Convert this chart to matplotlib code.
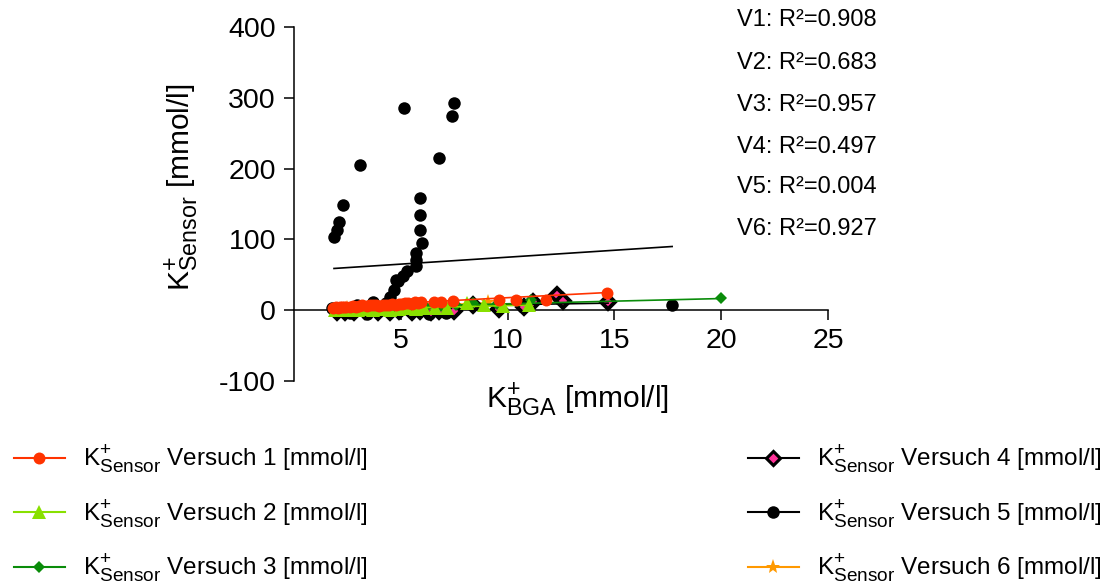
import numpy as np
import matplotlib
import matplotlib.pyplot as plt
import matplotlib._mathtext as mathtext_internals
from matplotlib.lines import Line2D

plt.rcParams['font.family'] = ['Liberation Sans', 'DejaVu Sans']
plt.rcParams['mathtext.fontset'] = 'custom'
plt.rcParams['mathtext.rm'] = 'Liberation Sans'
plt.rcParams['mathtext.it'] = 'Liberation Sans'
plt.rcParams['mathtext.bf'] = 'Liberation Sans:bold'
plt.rcParams['axes.unicode_minus'] = False
# larger sub/superscripts
mathtext_internals.SHRINK_FACTOR = 0.78

# K+ BGA (x) vs. K+ sensor (y) per Versuch
v1_x = [1.84, 1.95, 2.05, 2.15, 2.25, 2.35, 2.45, 2.6, 2.75, 2.9, 3.05, 3.2, 3.4, 3.55,
        3.7, 3.85, 4.0, 4.15, 4.3, 4.45, 4.6, 4.75, 4.9, 5.05, 5.2, 5.35, 5.5, 5.65,
        5.8, 5.95, 6.55, 6.9, 7.45, 9.6, 10.4, 11.8, 14.66]
v1_y = [3, 4, 3, 4, 5, 4, 5, 5, 6, 5, 6, 7, 6, 7, 8, 7, 6, 7, 8, 8, 9, 8, 9, 9, 10, 10,
        9, 11, 10, 11, 12, 12, 13, 14, 14, 15, 25]

v2_x = [1.9, 2.1, 2.4, 2.7, 3.0, 3.3, 3.7, 4.1, 4.5, 4.9, 5.3, 5.7, 6.1, 6.6, 7.15,
        8.1, 8.9, 9.8, 11.0]
v2_y = [0, 1, 0, 1, 1, 2, 1, 2, 1, 2, 3, 2, 3, 3, 3, 10, 7.5, 5.5, 7.5]

v3_x = [1.9, 2.3, 2.8, 3.3, 3.9, 4.4, 5.0, 5.6, 6.2, 6.9, 7.6, 8.4, 9.5, 11.1, 20.0]
v3_y = [1, 2, 2, 3, 3, 4, 4, 5, 5, 6, 8, 10, 9, 14, 17]

v4_x = [2.0, 2.4, 2.8, 3.3, 3.95, 4.5, 4.9, 5.5, 5.9, 6.4, 6.8, 7.47, 8.4, 9.6,
        10.75, 11.2, 12.3, 12.6, 14.7]
v4_y = [-3, -2, -2, -1, -3, -2, -1, -2, -1, -2, -1, -1.5, 7.5, 2, 5, 12, 21.5, 12.5, 11]

v5_x = [1.77, 1.87, 2.0, 2.09, 2.3, 2.6, 2.94, 3.09, 3.4, 3.7, 4.3, 4.5, 4.69, 4.78,
        4.88, 5.12, 5.17, 5.28, 5.69, 5.69, 5.69, 5.9, 5.9, 5.9, 6.0, 6.3, 6.8, 7.1,
        7.4, 7.5, 9.6, 10.7, 17.7]
v5_y = [3, 103, 113, 125, 149, -4, 7, 205, -5, 12, 10, 18, 28, 42, 41, 49, 286, 56,
        63, 71, 81, 113, 135, 159, 95, -5, 215, -4, 275, 293, 5, 4, 7]

v6_x = [2.5, 3.5, 5.0, 6.5, 9.1]
v6_y = [3, 4, 6, 8, 12]

# linear regression lines: slope, intercept, x range
fit_slope = [1.56, 0.7, 0.74, 0.46, 1.96, 1.3]
fit_intercept = [2.1, -0.5, 1.7, 3.2, 55.3, -1.5]
fit_xmin = [1.84, 1.9, 1.9, 2.0, 1.87, 2.5]
fit_xmax = [14.66, 11.0, 20.0, 14.7, 17.7, 9.1]

r2_labels = ['V1: R²=0.908', 'V2: R²=0.683', 'V3: R²=0.957',
             'V4: R²=0.497', 'V5: R²=0.004', 'V6: R²=0.927']

series_x = [v1_x, v2_x, v3_x, v4_x, v5_x, v6_x]
series_y = [v1_y, v2_y, v3_y, v4_y, v5_y, v6_y]

styles = [
    dict(color='#FF3300', marker='o', ms=8.6, mfc='#FF3300', mec='#FF3300', mew=0),
    dict(color='#88E000', marker='^', ms=10, mfc='#88E000', mec='#88E000', mew=0),
    dict(color='#0A8C0A', marker='D', ms=6, mfc='#0A8C0A', mec='#0A8C0A', mew=0),
    dict(color='black', marker='D', ms=7.5, mfc='#FF3399', mec='black', mew=2.8),
    dict(color='black', marker='o', ms=9, mfc='black', mec='black', mew=0),
    dict(color='#FF9900', marker='*', ms=11, mfc='#FF9900', mec='#FF9900', mew=0),
]
labels = [r'K$^{+}_{\mathrm{Sensor}}$ Versuch %d [mmol/l]' % (i + 1) for i in range(6)]

fig = plt.figure(figsize=(11.13, 5.85), dpi=100)
ax = fig.add_axes([0.2642, 0.3487, 0.4798, 0.6051])

# draw V6 first so V1 ends up on top
for i in [5, 4, 3, 2, 1, 0]:
    st = styles[i]
    ax.plot(series_x[i], series_y[i], linestyle='none', marker=st['marker'], ms=st['ms'],
            mfc=st['mfc'], mec=st['mec'], mew=st['mew'], zorder=3 + (5 - i) * 0.1)
    xx = np.array([fit_xmin[i], fit_xmax[i]])
    ax.plot(xx, fit_slope[i] * xx + fit_intercept[i], color=st['color'], lw=1.2,
            zorder=3 + (5 - i) * 0.1)

ax.set_xlim(0, 25)
ax.set_ylim(-100, 400)
ax.set_xticks([5, 10, 15, 20, 25])
ax.set_yticks([-100, 0, 100, 200, 300, 400])
ax.spines['top'].set_visible(False)
ax.spines['right'].set_visible(False)
ax.spines['bottom'].set_position(('data', 0))
for s in ['left', 'bottom']:
    ax.spines[s].set_linewidth(1.1)
ax.tick_params(direction='out', length=7, width=1.1, labelsize=20.5, pad=6)

fig.text(577 / 1113, 1 - 399 / 585, r'K$^{+}_{\mathrm{BGA}}$ [mmol/l]', fontsize=21.5,
         ha='center', va='center')
fig.text(181 / 1113, 1 - 187 / 585, r'K$^{+}_{\mathrm{Sensor}}$ [mmol/l]', fontsize=21.5,
         ha='center', va='center', rotation=90)

r2_y = [20, 63, 105, 147, 187, 229]
for txt, yy in zip(r2_labels, r2_y):
    fig.text(737 / 1113, 1 - yy / 585, txt, fontsize=17, ha='left', va='center')

handles = []
for st in styles:
    handles.append(Line2D([0], [0], color=st['color'], lw=1.5, marker=st['marker'],
                          ms=st['ms'], mfc=st['mfc'], mec=st['mec'],
                          mew=st['mew'] * 0.8))

leg_kw = dict(frameon=False, fontsize=17.5, handlelength=2.1, handletextpad=0.75,
              labelspacing=0.95, borderaxespad=0)
leg1 = fig.legend(handles[:3], labels[:3], loc='upper left',
                  bbox_to_anchor=(4 / 1113, 1 - 434 / 585), **leg_kw)
leg2 = fig.legend(handles[3:], labels[3:], loc='upper left',
                  bbox_to_anchor=(738 / 1113, 1 - 434 / 585), **leg_kw)

fig.savefig('out.png', dpi=100)
